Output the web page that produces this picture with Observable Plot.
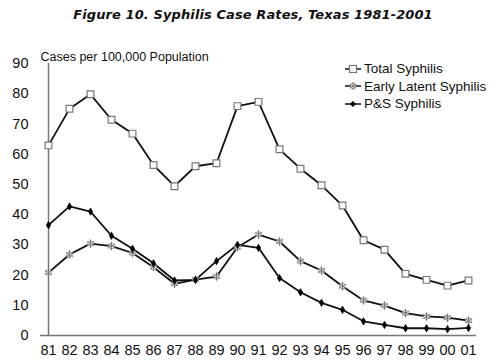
<!DOCTYPE html>
<html>
<head>
<meta charset="utf-8">
<script src="https://cdn.jsdelivr.net/npm/d3@7"></script>
<script src="https://cdn.jsdelivr.net/npm/@observablehq/plot@0.6"></script>
<style>
  body { margin: 0; background: #fff; }
  #wrap { position: relative; width: 500px; height: 363px; font-family: "Liberation Sans", Arial, sans-serif; }
  #title { height: 30px; line-height: 30px; text-align: center; font-family: "DejaVu Sans", sans-serif; font-weight: bold; font-style: italic; font-size: 13px; color: #111; letter-spacing: 0.1px; padding-left: 6px; box-sizing: border-box; }
  #legend { position: absolute; left: 344px; top: 60px; font-size: 13.5px; color: #111; }
  #legend div { height: 17.5px; line-height: 17.5px; display: flex; align-items: center; }
  #legend svg { margin-right: 2px; }
</style>
</head>
<body>
<div id="wrap">
  <div id="title">Figure 10.  Syphilis Case Rates, Texas 1981-2001</div>
  <div id="chart"></div>
  <div id="legend"></div>
</div>
<script>
const years = ["81","82","83","84","85","86","87","88","89","90","91","92","93","94","95","96","97","98","99","00","01"];
const totalSyphilis = [62.9, 75, 79.8, 71.4, 66.8, 56.4, 49.4, 56, 57, 75.9, 77.3, 61.6, 55.2, 49.7, 43, 31.5, 28.4, 20.4, 18.4, 16.5, 18.2];
const earlyLatent = [20.8, 26.8, 30.4, 29.6, 27.3, 22.6, 17.1, 18.5, 19.5, 29.2, 33.4, 31.1, 24.6, 21.5, 16.3, 11.6, 9.9, 7.4, 6.3, 5.9, 4.9];
const psSyphilis = [36.5, 42.7, 41, 33, 28.7, 23.9, 18.2, 18.4, 24.6, 30, 29, 19, 14.3, 10.8, 8.5, 4.7, 3.5, 2.4, 2.4, 2.1, 2.5];
const seriesNames = ["Total Syphilis", "Early Latent Syphilis", "P&S Syphilis"];
const yTicks = [0, 10, 20, 30, 40, 50, 60, 70, 80, 90];
const yLabel = "Cases per 100,000 Population";

const rows = (vals) => years.map((yr, i) => ({year: yr, value: vals[i]}));
const total = rows(totalSyphilis), early = rows(earlyLatent), ps = rows(psSyphilis);

const chart = Plot.plot({
  width: 500,
  height: 333,
  marginTop: 33,
  marginBottom: 28,
  marginLeft: 40,
  marginRight: 24,
  style: {fontFamily: "'Liberation Sans', Arial, sans-serif", fontSize: "14.5px", color: "#111", background: "#fff"},
  x: {type: "point", domain: years, padding: 0, label: null},
  y: {domain: [0, 90], ticks: yTicks, label: null},
  marks: [
    Plot.axisX({tickSize: 0, tickPadding: 9, fontSize: 14.5}),
    Plot.axisY({ticks: yTicks, tickSize: 0, tickPadding: 12, fontSize: 14.5}),
    Plot.ruleY([0], {stroke: "#777", strokeWidth: 1.5}),
    Plot.ruleX([years[0]], {stroke: "#777", strokeWidth: 1.5, y1: 0, y2: 90}),
    Plot.lineY(total, {x: "year", y: "value", stroke: "#111", strokeWidth: 1.8}),
    Plot.lineY(early, {x: "year", y: "value", stroke: "#111", strokeWidth: 1.8}),
    Plot.lineY(ps, {x: "year", y: "value", stroke: "#111", strokeWidth: 1.8}),
    Plot.dot(total, {x: "year", y: "value", symbol: "square", r: 3.8, fill: "#fff", stroke: "#777", strokeWidth: 1.2}),
    Plot.dot(early, {x: "year", y: "value", symbol: "circle", r: 2.8, fill: "#fff", stroke: "#999", strokeWidth: 1}),
    Plot.dot(early, {x: "year", y: "value", symbol: "asterisk", r: 4, stroke: "#777", strokeWidth: 1}),
    Plot.dot(ps, {x: "year", y: "value", symbol: "diamond", r: 2.2, fill: "#000", stroke: "#000", strokeWidth: 0.8}),
    Plot.text([yLabel], {frameAnchor: "top-left", dy: -11, textAnchor: "start", fontSize: 12.5, fill: "#111"})
  ]
});
document.getElementById("chart").appendChild(chart);

// legend
const legend = document.getElementById("legend");
const markers = [
  '<line x1="1" y1="7" x2="17" y2="7" stroke="#111" stroke-width="1.5"/><rect x="5.5" y="3.5" width="7" height="7" fill="#fff" stroke="#777" stroke-width="1.2"/>',
  '<line x1="1" y1="7" x2="17" y2="7" stroke="#111" stroke-width="1.5"/><circle cx="9" cy="7" r="2.8" fill="#fff" stroke="#999"/><path d="M9,3V11M5.5,5L12.5,9M5.5,9L12.5,5" stroke="#777"/>',
  '<line x1="1" y1="7" x2="17" y2="7" stroke="#111" stroke-width="1.5"/><path d="M9,4L12,7L9,10L6,7Z" fill="#000"/>'
];
seriesNames.forEach((name, i) => {
  const d = document.createElement("div");
  d.innerHTML = '<svg width="18" height="14">' + markers[i] + '</svg><span></span>';
  d.querySelector("span").textContent = name;
  legend.appendChild(d);
});
</script>
</body>
</html>
